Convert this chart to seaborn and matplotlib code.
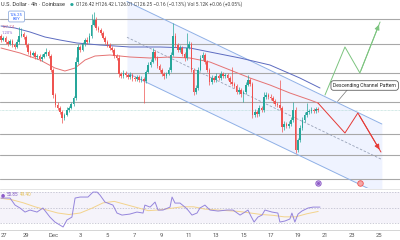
import matplotlib
matplotlib.use("Agg")
import matplotlib.pyplot as plt
import seaborn as sns
import numpy as np
import pandas as pd

sns.set_theme(style="white")
plt.rcParams['font.family'] = ['Roboto', 'DejaVu Sans']

# ---------------- data ----------------
first_open = 127.73
closes = [
    127.65, 127.69, 127.61, 127.57, 127.63, 127.55, 127.51, 127.61, 127.73, 127.77,
    127.71, 127.55, 127.41, 127.35, 127.39, 127.31, 127.33, 127.27, 127.31, 127.37,
    127.41, 127.33, 127.05, 126.55, 126.35, 126.29, 126.21, 126.09, 126.15, 126.25,
    126.29, 126.37, 126.49, 127.21, 127.51, 127.45, 127.57, 127.65, 127.61, 127.73,
    127.95, 128.05, 127.89, 127.85, 127.79, 127.69, 127.61, 127.55, 127.49, 127.45,
    127.33, 127.29, 126.97, 126.93, 126.99, 126.95, 126.91, 126.95, 126.89, 126.87,
    126.91, 126.85, 126.87, 126.83, 127.01, 127.15, 127.21, 127.41, 127.29, 127.13,
    127.05, 126.97, 126.93, 126.97, 127.05, 127.35, 127.73, 127.55, 127.45, 127.49,
    127.37, 127.29, 127.49, 127.57, 127.05, 126.61, 126.69, 127.05, 127.29, 127.35,
    127.21, 127.05, 126.81, 126.89, 126.85, 126.93, 126.89, 126.97, 126.93, 126.95,
    126.89, 126.81, 126.77, 126.73, 126.61, 126.65, 126.57, 126.61, 126.75, 126.85,
    126.77, 126.15, 126.21, 126.17, 126.29, 126.25, 126.51, 126.55, 126.51, 126.49,
    126.43, 126.37, 126.35, 126.29, 125.91, 125.97, 125.93, 125.97, 126.05, 126.25,
    125.45, 125.65, 125.89, 126.05, 126.15, 126.21, 126.23, 126.25, 126.23, 126.27,
    126.25]
upper_wick = [
    0.04, 0.03, 0.04, 0.03, 0.04, 0.03, 0.04, 0.05, 0.18, 0.12,
    0.04, 0.03, 0.04, 0.03, 0.04, 0.03, 0.04, 0.03, 0.05, 0.04,
    0.08, 0.04, 0.03, 0.04, 0.04, 0.05, 0.03, 0.04, 0.04, 0.05,
    0.04, 0.03, 0.04, 0.10, 0.06, 0.04, 0.05, 0.04, 0.06, 0.05,
    0.22, 0.16, 0.05, 0.04, 0.03, 0.04, 0.03, 0.04, 0.03, 0.04,
    0.04, 0.03, 0.05, 0.04, 0.06, 0.03, 0.04, 0.05, 0.03, 0.04,
    0.04, 0.03, 0.05, 0.04, 0.04, 0.05, 0.06, 0.08, 0.04, 0.03,
    0.04, 0.03, 0.04, 0.03, 0.05, 0.06, 0.26, 0.05, 0.04, 0.06,
    0.04, 0.03, 0.30, 0.06, 0.04, 0.03, 0.05, 0.06, 0.05, 0.06,
    0.04, 0.03, 0.04, 0.05, 0.04, 0.06, 0.03, 0.05, 0.04, 0.04,
    0.04, 0.03, 0.30, 0.04, 0.03, 0.05, 0.04, 0.04, 0.05, 0.10,
    0.04, 0.04, 0.05, 0.04, 0.05, 0.04, 0.10, 0.06, 0.04, 0.05,
    0.04, 0.03, 0.04, 0.50, 0.04, 0.05, 0.04, 0.05, 0.06, 0.16,
    0.05, 0.04, 0.06, 0.05, 0.06, 0.18, 0.04, 0.05, 0.04, 0.04,
    0.03]
lower_wick = [
    0.04, 0.03, 0.04, 0.05, 0.03, 0.04, 0.05, 0.03, 0.04, 0.03,
    0.04, 0.05, 0.04, 0.05, 0.03, 0.04, 0.05, 0.04, 0.05, 0.03,
    0.04, 0.04, 0.05, 0.06, 0.05, 0.04, 0.05, 0.10, 0.04, 0.03,
    0.04, 0.03, 0.04, 0.04, 0.05, 0.04, 0.03, 0.04, 0.05, 0.03,
    0.04, 0.03, 0.04, 0.05, 0.04, 0.03, 0.04, 0.05, 0.04, 0.05,
    0.04, 0.05, 0.06, 0.04, 0.05, 0.04, 0.05, 0.04, 0.06, 0.05,
    0.04, 0.05, 0.04, 0.44, 0.04, 0.03, 0.04, 0.03, 0.04, 0.05,
    0.04, 0.05, 0.06, 0.04, 0.03, 0.04, 0.03, 0.04, 0.05, 0.04,
    0.05, 0.06, 0.04, 0.03, 0.05, 0.06, 0.05, 0.04, 0.03, 0.04,
    0.04, 0.05, 0.06, 0.04, 0.05, 0.04, 0.05, 0.04, 0.05, 0.04,
    0.05, 0.04, 0.05, 0.04, 0.05, 0.04, 0.06, 0.16, 0.04, 0.03,
    0.04, 0.06, 0.05, 0.06, 0.04, 0.05, 0.04, 0.05, 0.04, 0.05,
    0.04, 0.05, 0.04, 0.05, 0.10, 0.06, 0.05, 0.04, 0.05, 0.04,
    0.06, 0.05, 0.04, 0.04, 0.05, 0.04, 0.05, 0.04, 0.05, 0.04,
    0.04]

# moving averages read at sparse bar positions
red_ma_t = [0, 8.4, 17.2, 23.8, 28.2, 32.7, 37.1, 41.5, 48.1, 56.9, 65.8, 74.6,
            83.4, 92.2, 101.1, 109.9, 118.7, 127.5, 136.4, 139.9]
red_ma_v = [127.49, 127.39, 127.25, 127.09, 127.03, 127.09, 127.25, 127.33, 127.35,
            127.31, 127.29, 127.31, 127.29, 127.21, 127.05, 126.89, 126.75, 126.59,
            126.45, 126.39]
blue_ma_t = [0, 6.2, 12.8, 19.4, 26.0, 33.5, 43.7, 56.9, 70.2, 83.4, 92.2, 105.5,
             118.7, 131.9, 140.8]
blue_ma_v = [127.93, 127.89, 127.81, 127.71, 127.65, 127.59, 127.55, 127.51, 127.51,
             127.49, 127.41, 127.29, 127.15, 126.89, 126.69]

# horizontal levels
levels = [128.07, 127.57, 126.99, 126.41, 125.77, 125.35, 124.87]

# descending channel (start / end bar, upper & lower price)
chan_t = [55.6, 168.1]
chan_upper = [128.42, 125.97]
chan_lower = [126.99, 124.55]

# projections
bull_t = [143.0, 151.8, 158.4, 167.3]
bull_v = [126.55, 127.51, 126.99, 128.01]
bear_t = [139.9, 151.8, 157.5, 167.7]
bear_v = [126.39, 125.79, 126.19, 125.41]

# RSI
rsi_t = [0, 4, 6.2, 8.4, 10.6, 12.8, 15.9, 18.5, 21.6, 23.8, 26.0, 27.4, 29.1, 31.3,
         32.7, 34.9, 38.4, 40.6, 42.4, 43.7, 45.9, 49.4, 51.2, 53.4, 56.9, 60.0, 62.7,
         63.5, 65.8, 68.0, 69.3, 71.5, 74.6, 75.5, 76.8, 79.0, 81.2, 82.5, 84.3, 86.5,
         87.8, 90.0, 92.2, 95.8, 99.7, 102.4, 105.5, 107.7, 109.0, 110.3, 111.7, 113.4,
         115.2, 116.5, 119.6, 122.2, 123.1, 125.3, 127.5, 128.4, 129.7, 131.1, 132.8,
         135.5, 137.7, 140.8]
rsi_v = [62.3, 62.3, 53.2, 49.4, 44.2, 46.8, 44.2, 49.4, 37.7, 31.3, 27.4, 24.9, 33.9,
         37.7, 62.3, 63.6, 63.6, 70.0, 70.0, 66.1, 57.1, 53.2, 42.9, 40.3, 41.6, 44.2,
         42.9, 53.2, 50.6, 57.1, 46.8, 46.8, 50.6, 63.6, 55.8, 55.8, 50.6, 46.8, 40.3,
         42.9, 49.4, 53.2, 46.8, 45.5, 46.8, 46.8, 40.3, 44.2, 46.8, 39.0, 31.3, 37.7,
         40.3, 46.8, 44.2, 42.9, 31.3, 32.6, 35.2, 42.9, 31.3, 41.6, 45.5, 49.4, 50.6,
         50.6]
rsi_ma_t = [0, 5, 10, 15, 20, 25, 30, 35, 40, 45, 50, 55, 60, 65, 70, 75, 80, 85, 90,
            95, 100, 105, 110, 115, 120, 125, 130, 135, 140]
rsi_ma_v = [62, 60, 56, 51, 47, 43, 41, 43, 49, 56, 58, 54, 50, 46, 47, 49, 51, 51, 48,
            47, 46, 45, 43, 41, 40, 38, 38, 42, 45]

tick_pos = [11, 23, 35, 47, 59, 71, 83, 95, 107, 119, 131, 143, 155, 167]
tick_lab = ["29", "Dec", "3", "5", "7", "9", "11", "13", "15", "17", "19", "21", "23", "25"]
first_tick_label = "27"

# ---------------- figure ----------------
W, H = 400, 240
fig = plt.figure(figsize=(4, 2.4), dpi=100)
fig.patch.set_facecolor("white")
ax = fig.add_axes([0, 1 - 188 / H, 1, 188 / H])
ax2 = fig.add_axes([0, 1 - 230 / H, 1, 41 / H], sharex=ax)
XL = (-0.44, 176.1)

GREEN, RED = "#26a69a", "#ef5350"

df = pd.DataFrame({"close": closes, "uw": upper_wick, "lw": lower_wick})
df["t"] = np.arange(len(df))
df["open"] = [first_open] + closes[:-1]
df["high"] = df[["open", "close"]].max(axis=1) + df["uw"]
df["low"] = df[["open", "close"]].min(axis=1) - df["lw"]
df["col"] = np.where(df["close"] >= df["open"], GREEN, RED)

# channel fill
ax.fill_between(chan_t, chan_lower, chan_upper, color="#2962ff", alpha=0.07, lw=0, zorder=1)
ax.plot(chan_t, chan_upper, color="#8fb0e6", lw=0.7, zorder=2)
ax.plot(chan_t, chan_lower, color="#8fb0e6", lw=0.7, zorder=2)
mid = [(a + b) / 2 for a, b in zip(chan_upper, chan_lower)]
ax.plot(chan_t, mid, color="#98a2b8", lw=0.6, ls=(0, (3, 2)), zorder=2)

for lv in levels:
    ax.axhline(lv, color="#a8a8a8", lw=0.8, zorder=1.5)
ax.axhline(closes[-1], color="#a8d6d0", lw=0.5, ls=(0, (1, 1)), zorder=1.5)

# moving averages
sns.lineplot(x=red_ma_t, y=red_ma_v, ax=ax, color="#e57373", lw=0.7, sort=False,
             estimator=None, zorder=3)
sns.lineplot(x=blue_ma_t, y=blue_ma_v, ax=ax, color="#5c6bc0", lw=0.7, sort=False,
             estimator=None, zorder=3)

# candles
ax.vlines(df["t"], df["low"], df["high"], colors=df["col"], lw=0.5, zorder=4)
body = (df["close"] - df["open"]).abs().clip(lower=0.012)
ax.bar(df["t"], body, bottom=df[["open", "close"]].min(axis=1), width=0.72,
       color=df["col"], lw=0, zorder=5)

# projections
ax.plot(bull_t, bull_v, color="#7cc47f", lw=0.7, zorder=6)
ax.annotate("", xy=(bull_t[-1], bull_v[-1]), xytext=(bull_t[-2], bull_v[-2]),
            arrowprops=dict(arrowstyle="-|>,head_length=0.25,head_width=0.12",
                            color="#7cc47f", lw=0.7), zorder=6)
ax.plot(bear_t, bear_v, color="#e53935", lw=0.7, zorder=6)
ax.annotate("", xy=(bear_t[-1], bear_v[-1]), xytext=(bear_t[-2], bear_v[-2]),
            arrowprops=dict(arrowstyle="-|>,head_length=0.25,head_width=0.12",
                            color="#e53935", lw=0.7), zorder=6)

# callout
ax.plot([148.5, 152.8], [126.42, 126.65], color="#777777", lw=0.5, zorder=7)
ax.text(160.5, 126.74, "Descending Channel Pattern", fontsize=3.6, color="#222222",
        ha="center", va="center", zorder=8,
        bbox=dict(boxstyle="round,pad=0.45,rounding_size=0.5", fc="white",
                  ec="#444444", lw=0.5))

# event markers
ax.scatter([139.9], [124.79], s=14, facecolor="white", edgecolor="#8e5cc8", lw=0.8, zorder=9)
ax.scatter([139.9], [124.79], s=2, color="#8e5cc8", zorder=10)
ax.scatter([158.4], [124.79], s=16, facecolor="#f4a6a6", edgecolor="#ef5350", lw=0.6, zorder=9)

ax.set_xlim(*XL)
ax.set_ylim(128.45 - 0.02 * 188, 128.45)
ax.axis("off")

# RSI panel
ax2.axhspan(30, 70, color="#7e57c2", alpha=0.07, lw=0)
for lv in (70, 50, 30):
    ax2.axhline(lv, color="#b8b8c8", lw=0.5, ls=(0, (2, 2)))
sns.lineplot(x=rsi_ma_t, y=rsi_ma_v, ax=ax2, color="#f3d38c", lw=0.7, sort=False,
             estimator=None)
sns.lineplot(x=rsi_t, y=rsi_v, ax=ax2, color="#9585dc", lw=0.7, sort=False,
             estimator=None)
ax2.set_ylim(21, 74)
ax2.set_xlim(*XL)
for s in ("top", "left", "right"):
    ax2.spines[s].set_visible(False)
ax2.spines["bottom"].set_color("#cfcfcf")
ax2.spines["bottom"].set_linewidth(0.6)
ax2.set_yticks([])
ax2.set_xticks(tick_pos)
ax2.set_xticklabels(tick_lab, fontsize=4.2, color="#555555")
ax2.tick_params(axis="x", length=0, pad=2)
ax2.set_xlabel("")
ax2.set_ylabel("")
fig.text(0.5 / W, 1 - 235.5 / H, first_tick_label, fontsize=4.2, color="#555555",
         ha="left", va="center")

# panel separator
fig.add_artist(plt.Line2D([0, 1], [1 - 188.5 / H, 1 - 188.5 / H], color="#e0e0e0", lw=0.6))

# RSI legend text
fig.text(3 / W, 1 - 194.5 / H, "\u25cf", fontsize=3.4, color="#8e5cc8", ha="center", va="center")
fig.text(7 / W, 1 - 194.5 / H, "50.85", fontsize=3.3, color="#7e57c2", ha="left", va="center")
fig.text(20 / W, 1 - 194.5 / H, "49.40", fontsize=3.3, color="#e6c35c", ha="left", va="center")

# header
fig.text(1 / W, 1 - 4.5 / H, "U.S. Dollar · 4h · Coinbase", fontsize=4.1, color="#333333",
         ha="left", va="center")
fig.text(72 / W, 1 - 4.5 / H, "\u25cf", fontsize=3.2, color="#26a69a", ha="center", va="center")
fig.text(76 / W, 1 - 4.5 / H,
         "O126.42 H126.42 L126.01 C126.25 \u22120.16 (\u22120.13%) Vol 5.12K +0.06 (+0.05%)",
         fontsize=3.5, color="#444444", ha="left", va="center")
fig.text(16.5 / W, 1 - 16.5 / H, "126.25\nBUY", fontsize=3.0, color="#2962ff", ha="center",
         va="center", linespacing=1.0,
         bbox=dict(boxstyle="round,pad=0.35,rounding_size=0.3", fc="white", ec="#7e9fd8", lw=0.5))
fig.text(2 / W, 1 - 27 / H, "127.74", fontsize=3.0, color="#d06a8a", ha="left", va="center")
fig.text(2 / W, 1 - 33 / H, "1.20%", fontsize=3.0, color="#8e6ad0", ha="left", va="center")

fig.savefig("out.png", dpi=100, facecolor="white")
